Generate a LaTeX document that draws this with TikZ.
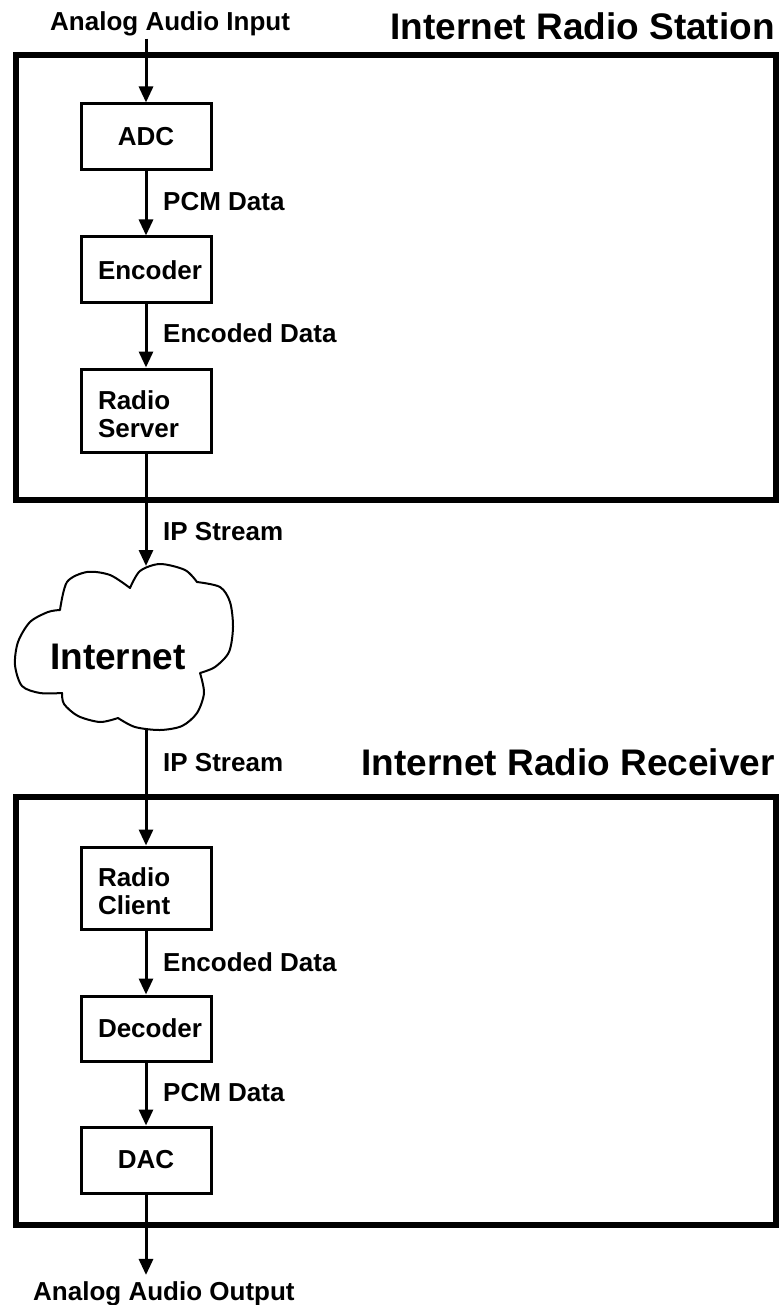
\documentclass[tikz,border=0pt]{standalone}
\usepackage{fontspec}
\setmainfont{Liberation Sans}
\usetikzlibrary{arrows.meta}
\begin{document}
\begin{tikzpicture}[x=1pt,y=-1pt,
  lbl/.style={font=\fontsize{26}{28}\selectfont\bfseries, inner sep=0pt},
  ttl/.style={font=\fontsize{37}{40}\selectfont\bfseries, inner sep=0pt},
  blk/.style={draw, line width=3pt, minimum width=130pt, inner sep=0pt, font=\fontsize{26}{28}\selectfont\bfseries},
  blkl/.style={blk, text width=96pt, align=left},
  blkll/.style={blkl, text height=26pt},
  frame/.style={draw, line width=5.5pt},
  flow/.style={line width=3pt, -{Triangle[width=14pt,length=16pt]}},
  wire/.style={line width=3pt},
  cloudline/.style={line width=2pt, line join=round}
]
\useasboundingbox (0,0) rectangle (782,1305);

% frames
\draw[frame] (16,55) rectangle (776,500);
\draw[frame] (16,797) rectangle (776,1225);

% titles
\node[ttl, anchor=base east] (sttl) at (775,40) {Internet Radio Station};
\node[ttl, anchor=base east] (rttl) at (775,775) {Internet Radio Receiver};

% external labels
\node[lbl, anchor=base west] (ain) at (50,31) {Analog Audio Input};
\node[lbl, anchor=base west] (aout) at (33,1300) {Analog Audio Output};

% blocks
\node[blk, minimum height=66pt] (adc) at (146,137) {ADC};
\node[blkl, minimum height=66pt] (enc) at (146,270) {Encoder};
\node[blkll, minimum height=83pt] (srv) at (146,410.5) {Radio\\Server};
\node[blkll, minimum height=82pt] (cli) at (146,888) {Radio\\Client};
\node[blkl, minimum height=65pt] (dec) at (146,1028.5) {Decoder};
\node[blk, minimum height=66pt] (dac) at (146,1160) {DAC};

% cloud
\draw[cloudline]
 plot[smooth] coordinates {(60,610) (67,582) (87,572) (110,575) (130,588)}
 -- plot[smooth] coordinates {(130,588) (140,571) (160,564) (185,570) (197,582)}
 -- plot[smooth] coordinates {(197,582) (220,587) (230,602) (233,627) (229,652) (215,667) (200,673)}
 -- plot[smooth] coordinates {(200,673) (204,693) (197,713) (182,726) (160,730) (135,727) (118,718)}
 -- plot[smooth] coordinates {(118,718) (100,722) (78,716) (64,704) (62,693)}
 -- plot[smooth] coordinates {(62,693) (40,693) (22,686) (15,665) (18,642) (30,622) (48,612) (60,610)} -- cycle;
\node[ttl] (inet) at (118,657) {Internet};
\coordinate (cloudtop) at (146,566);
\coordinate (cloudbot) at (146,729);

% connectors
\draw[flow] (adc.north |- ain.south) ++(0,2) -- (adc.north);
\draw[flow] (adc) -- (enc);
\draw[flow] (enc) -- (srv);
\draw[flow] (srv) -- (cloudtop);
\draw[flow] (cloudbot) -- (cli);
\draw[flow] (cli) -- (dec);
\draw[flow] (dec) -- (dac);
\draw[flow, shorten >=6pt] (dac) -- (dac.south |- aout.north);

% connector labels
\node[lbl, anchor=west] (l1) at (163,202) {PCM Data};
\node[lbl, anchor=west] (l2) at (163,333) {Encoded Data};
\node[lbl, anchor=west] (l3) at (163,532) {IP Stream};
\node[lbl, anchor=west] (l4) at (163,763) {IP Stream};
\node[lbl, anchor=west] (l5) at (163,962) {Encoded Data};
\node[lbl, anchor=west] (l6) at (163,1093) {PCM Data};
\end{tikzpicture}
\end{document}
